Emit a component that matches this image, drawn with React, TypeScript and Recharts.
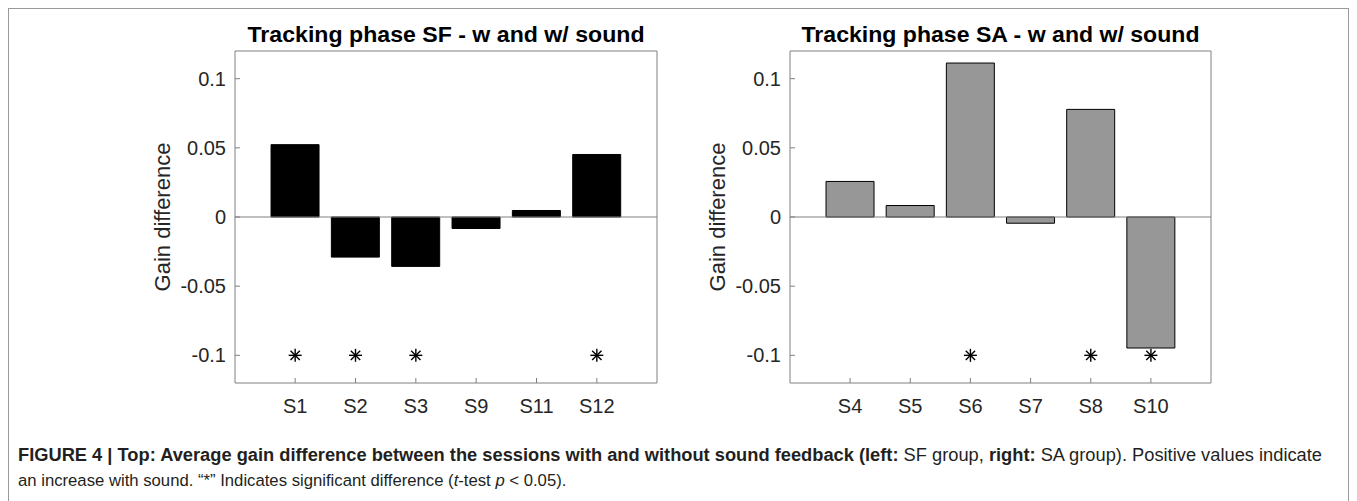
import React from 'react';
import { ComposedChart, Bar, Scatter, XAxis, YAxis, ReferenceLine } from 'recharts';

// ---- data ----
const sfSessions = ['S1', 'S2', 'S3', 'S9', 'S11', 'S12'];
const sfGain = [0.0523, -0.029, -0.0357, -0.0083, 0.0047, 0.0452];
const sfSignificant = [true, true, true, false, false, true];

const saSessions = ['S4', 'S5', 'S6', 'S7', 'S8', 'S10'];
const saGain = [0.0257, 0.0083, 0.1113, -0.0045, 0.0778, -0.0947];
const saSignificant = [false, false, true, false, true, true];

const yTicks = [-0.1, -0.05, 0, 0.05, 0.1];
const yDomain: [number, number] = [-0.12, 0.12];
const starLevel = -0.1;

const sfTitle = 'Tracking phase SF - w and w/ sound';
const saTitle = 'Tracking phase SA - w and w/ sound';
const yLabel = 'Gain difference';

const FONT = '"Liberation Sans", Arial, Helvetica, sans-serif';
const AXIS = '#808080';
const TEXT = '#262626';

const buildRows = (names: string[], gains: number[], sig: boolean[]) =>
  names.map((name, i) => ({ name, gain: gains[i], star: sig[i] ? starLevel : null }));

const sfRows = buildRows(sfSessions, sfGain, sfSignificant);
const saRows = buildRows(saSessions, saGain, saSignificant);

const Star = (props: any) => {
  const { cx, cy, payload } = props;
  if (!payload || payload.star == null || cx == null || cy == null) return <g />;
  const r = 6.5;
  const d = r * 0.72;
  return (
    <g stroke="#000" strokeWidth={1.4}>
      <line x1={cx} y1={cy - r} x2={cx} y2={cy + r} />
      <line x1={cx - r} y1={cy} x2={cx + r} y2={cy} />
      <line x1={cx - d} y1={cy - d} x2={cx + d} y2={cy + d} />
      <line x1={cx - d} y1={cy + d} x2={cx + d} y2={cy - d} />
    </g>
  );
};

const makeYLabel = (gap: number) => (props: any) => {
  const vb = props.viewBox || {};
  const x = vb.x + vb.width - gap;
  const y = vb.y + vb.height / 2;
  return (
    <text
      x={x}
      y={y}
      transform={`rotate(-90, ${x}, ${y})`}
      textAnchor="middle"
      dominantBaseline="central"
      fontSize={22}
      fontFamily={FONT}
      fill={TEXT}
    >
      {yLabel}
    </text>
  );
};

type PanelProps = {
  rows: any[];
  width: number;
  leftW: number;
  rightMargin: number;
  fill: string;
};

const Panel = ({ rows, width, leftW, rightMargin, fill }: PanelProps) => (
  <ComposedChart
    width={width}
    height={440}
    data={rows}
    margin={{ top: 50, right: rightMargin, bottom: 0, left: 0 }}
    barCategoryGap="10%"
  >
    <XAxis
      xAxisId="b"
      dataKey="name"
      type="category"
      height={57}
      padding={{ left: 30, right: 30 }}
      interval={0}
      stroke={AXIS}
      tickSize={-5}
      tickMargin={21}
      tick={{ fill: TEXT, fontSize: 20, fontFamily: FONT }}
    />
    <XAxis
      xAxisId="t"
      dataKey="name"
      type="category"
      orientation="top"
      height={1}
      padding={{ left: 30, right: 30 }}
      interval={0}
      stroke={AXIS}
      tickSize={-5}
      tick={false}
    />
    <YAxis
      yAxisId="l"
      type="number"
      domain={yDomain}
      ticks={yTicks}
      allowDataOverflow
      interval={0}
      width={leftW}
      stroke={AXIS}
      tickSize={-5}
      tickMargin={14}
      tick={{ fill: TEXT, fontSize: 20, fontFamily: FONT }}
      label={{ content: makeYLabel(73) }}
    />
    <YAxis
      yAxisId="r"
      type="number"
      orientation="right"
      domain={yDomain}
      ticks={yTicks}
      allowDataOverflow
      interval={0}
      width={1}
      stroke={AXIS}
      tickSize={-5}
      tick={false}
    />
    <Bar
      xAxisId="b"
      yAxisId="l"
      dataKey="gain"
      fill={fill}
      stroke="#000"
      strokeWidth={1}
      isAnimationActive={false}
    />
    <ReferenceLine xAxisId="b" yAxisId="l" y={0} stroke={AXIS} strokeWidth={1} />
    <Scatter
      xAxisId="t"
      yAxisId="r"
      dataKey="star"
      shape={Star}
      isAnimationActive={false}
    />
  </ComposedChart>
);

export default function App() {
  return (
    <div style={{ position: 'absolute', left: 0, top: 0, width: 1357, height: 501, background: '#fff', overflow: 'hidden' }}>
      <svg width={1357} height={501} style={{ position: 'absolute', left: 0, top: 0 }}>
        <rect x={8.5} y={8.5} width={1340} height={600} fill="none" stroke="#9a9a9a" strokeWidth={1} />
        <text x={446} y={42} textAnchor="middle" fontSize={22.5} fontWeight="bold" fontFamily={FONT} fill="#000" textLength={397} lengthAdjust="spacingAndGlyphs">
          {sfTitle}
        </text>
        <text x={1000.5} y={42} textAnchor="middle" fontSize={22.5} fontWeight="bold" fontFamily={FONT} fill="#000" textLength={398} lengthAdjust="spacingAndGlyphs">
          {saTitle}
        </text>
        <text x={18} y={461} fontSize={17.5} fontFamily={FONT} fill="#231f20" textLength={1304} lengthAdjust="spacingAndGlyphs">
          <tspan fontWeight="bold">{'FIGURE 4 | Top: Average gain difference between the sessions with and without sound feedback (left:'}</tspan>
          <tspan>{' SF group, '}</tspan>
          <tspan fontWeight="bold">{'right:'}</tspan>
          <tspan>{' SA group). Positive values indicate'}</tspan>
        </text>
        <text x={18} y={486} fontSize={16.7} fontFamily={FONT} fill="#231f20">
          <tspan>{'an increase with sound. \u201C*\u201D Indicates significant difference ('}</tspan>
          <tspan fontStyle="italic">{'t'}</tspan>
          <tspan>{'-test '}</tspan>
          <tspan fontStyle="italic">{'p'}</tspan>
          <tspan>{' < 0.05).'}</tspan>
        </text>
      </svg>
      <div style={{ position: 'absolute', left: 0, top: 0 }}>
        <Panel rows={sfRows} width={680} leftW={235} rightMargin={22} fill="#000000" />
      </div>
      <div style={{ position: 'absolute', left: 680, top: 0 }}>
        <Panel rows={saRows} width={677} leftW={110} rightMargin={145} fill="#979797" />
      </div>
    </div>
  );
}
